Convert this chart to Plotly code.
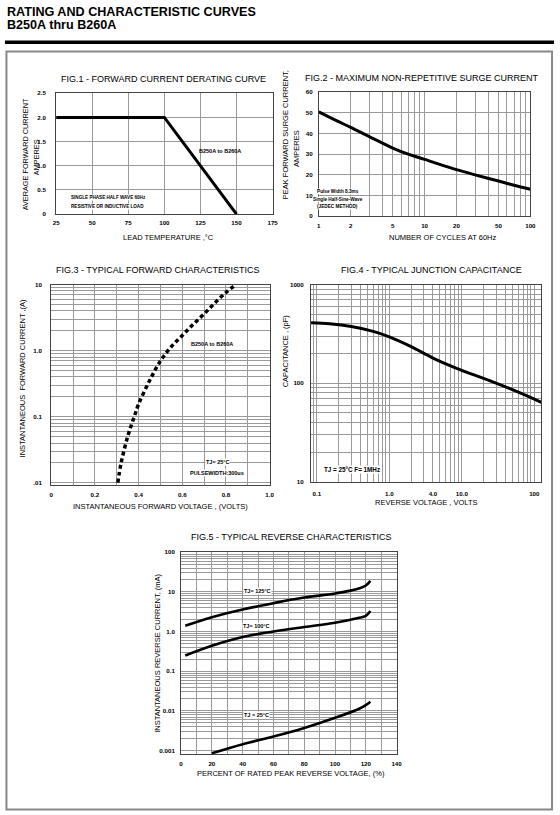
import plotly.graph_objects as go

W, H = 560, 815
FONT = "Liberation Sans"
GRID = "#9a9a9a"
FRAME = "#444444"

# fig.1 - derating curve
f1_temp = [25, 100, 150]
f1_amps = [2.0, 2.0, 0.0]
f1_xticks = [25, 50, 75, 100, 125, 150, 175]
f1_yticks = [0, 0.5, 1.0, 1.5, 2.0, 2.5]
f1_ylabels = ["0", "0.5", "1.0", "1.5", "2.0", "2.5"]

# fig.2 - surge current
f2_cycles = [1, 1.5, 2, 3, 5, 7, 10, 20, 30, 50, 70, 100]
f2_amps = [50.5, 46, 43, 38.5, 33, 30, 27.5, 22.5, 20, 17, 15, 13]
f2_xlabels = {1: "1", 2: "2", 5: "5", 10: "10", 20: "20", 50: "50", 100: "100"}
f2_yticks = [0, 10, 20, 30, 40, 50, 60]

# fig.3 - forward characteristics
f3_volts = [0.305, 0.32, 0.35, 0.38, 0.40, 0.45, 0.50, 0.55, 0.60, 0.65, 0.70, 0.75, 0.80, 0.845]
f3_amps = [0.01, 0.02, 0.05, 0.1, 0.155, 0.35, 0.7, 1.15, 1.7, 2.5, 3.6, 5.3, 7.6, 10]
f3_xticks = [0, 0.1, 0.2, 0.3, 0.4, 0.5, 0.6, 0.7, 0.8, 0.9, 1.0]
f3_xlabels = ["0", "", "0.2", "", "0.4", "", "0.6", "", "0.8", "", "1.0"]
f3_ylabels = {0.01: ".01", 0.1: "0.1", 1: "1.0", 10: "10"}

# fig.4 - junction capacitance
f4_volts = [0.083, 0.15, 0.3, 0.6, 1.0, 2, 4, 10, 20, 50, 100, 125]
f4_pf = [410, 400, 375, 335, 295, 235, 180, 135, 112, 86, 69, 64]
f4_xlabels = {0.1: "0.1", 1: "1.0", 4: "4.0", 10: "10.0", 100: "100"}
f4_ylabels = {10: "10", 100: "100", 1000: "1000"}

# fig.5 - reverse characteristics
f5_pct_hot = [2.7, 20, 40, 60, 80, 100, 115, 120, 123]
f5_tj125 = [1.4, 2.3, 3.6, 5.2, 7.2, 9.1, 12, 14.5, 19]
f5_tj100 = [0.25, 0.44, 0.73, 1.0, 1.3, 1.67, 2.2, 2.5, 3.3]
f5_pct_25 = [20, 40, 60, 80, 100, 115, 120, 123]
f5_tj25 = [0.00085, 0.00145, 0.00225, 0.0037, 0.0067, 0.011, 0.014, 0.017]
f5_xticks = [0, 10, 20, 30, 40, 50, 60, 70, 80, 90, 100, 110, 120, 130, 140]
f5_xlabels = ["0", "", "20", "", "40", "", "60", "", "80", "", "100", "", "120", "", "140"]
f5_ylabels = {0.001: "0.001", 0.01: "0.01", 0.1: "0.1", 1: "1.0", 10: "10", 100: "100"}


def px(x):
    return x / W


def py(y):
    return 1 - y / H


def loggrid(lo, hi, labels):
    vals, txt = [], []
    e = lo
    while e <= hi:
        for k in range(1, 10):
            v = round(k * 10 ** e, 6)
            vals.append(v)
            txt.append(labels.get(v, ""))
        e += 1
    return vals, txt


def axis(x0, x1, rng, vals, txt, anchor, typ="linear", standoff=4):
    return dict(domain=[x0, x1], range=rng, type=typ, anchor=anchor,
                tickmode="array", tickvals=vals, ticktext=txt,
                showgrid=True, gridcolor=GRID, gridwidth=0.8,
                showline=True, linecolor=FRAME, linewidth=1, mirror=True,
                ticks="", zeroline=False, ticklabelstandoff=standoff,
                tickfont=dict(family=FONT, size=6.2, color="black", weight="bold"))


fig = go.Figure()

fig.add_trace(go.Scatter(x=f1_temp, y=f1_amps, mode="lines", xaxis="x", yaxis="y",
                         line=dict(color="black", width=3)))
fig.add_trace(go.Scatter(x=f2_cycles, y=f2_amps, mode="lines", xaxis="x2", yaxis="y2",
                         line=dict(color="black", width=3, shape="spline")))
fig.add_trace(go.Scatter(x=f3_volts, y=f3_amps, mode="lines", xaxis="x3", yaxis="y3",
                         line=dict(color="black", width=3.5, dash="4px,3px", shape="spline")))
fig.add_trace(go.Scatter(x=f4_volts, y=f4_pf, mode="lines", xaxis="x4", yaxis="y4",
                         line=dict(color="black", width=3, shape="spline")))
for xs, ys in [(f5_pct_hot, f5_tj125), (f5_pct_hot, f5_tj100), (f5_pct_25, f5_tj25)]:
    fig.add_trace(go.Scatter(x=xs, y=ys, mode="lines", xaxis="x5", yaxis="y5",
                             line=dict(color="black", width=2.6, shape="spline")))

f2x_vals, f2x_txt = loggrid(0, 1, f2_xlabels)
f2x_vals.append(100)
f2x_txt.append("100")
f3y_vals, f3y_txt = loggrid(-2, 0, f3_ylabels)
f3y_vals.append(10)
f3y_txt.append("10")
f4x_vals, f4x_txt = loggrid(-2, 1, f4_xlabels)
f4x_vals += [100]
f4x_txt += ["100"]
f4y_vals, f4y_txt = loggrid(1, 2, f4_ylabels)
f4y_vals.append(1000)
f4y_txt.append("1000")
f5y_vals, f5y_txt = loggrid(-3, 1, f5_ylabels)
f5y_vals.append(100)
f5y_txt.append("100")

layout = dict(
    width=W, height=H, margin=dict(l=0, r=0, t=0, b=0),
    paper_bgcolor="white", plot_bgcolor="white", showlegend=False,
    font=dict(family=FONT, color="black"),
    xaxis=axis(px(54), px(274), [25, 175], f1_xticks, [str(v) for v in f1_xticks], "y", standoff=2),
    yaxis=axis(py(212), py(90), [0, 2.5], f1_yticks, f1_ylabels, "x", standoff=8),
    xaxis2=axis(px(321), px(536), [0, 2], f2x_vals, f2x_txt, "y2", "log", standoff=3),
    yaxis2=axis(py(214), py(89), [0, 60], f2_yticks, [str(v) for v in f2_yticks], "x2", standoff=4),
    xaxis3=axis(px(49), px(271), [0, 1.0], f3_xticks, f3_xlabels, "y3", standoff=4),
    yaxis3=axis(py(485), py(283), [-2.03, 1], f3y_vals, f3y_txt, "x3", "log", standoff=7),
    xaxis4=axis(px(313), px(547), [-1.08, 2.095], f4x_vals, f4x_txt, "y4", "log", standoff=6),
    yaxis4=axis(py(482), py(283), [1, 3], f4y_vals, f4y_txt, "x4", "log", standoff=5),
    xaxis5=axis(px(181), px(400), [0, 140], f5_xticks, f5_xlabels, "y5", standoff=3),
    yaxis5=axis(py(757), py(553), [-3.1, 2], f5y_vals, f5y_txt, "x5", "log", standoff=4),
)
fig.update_layout(**layout)


def note(text, x, y, size=8, angle=0, bold=False, bg=None, xanchor="center", align="center"):
    fig.add_annotation(text=text, x=px(x), y=py(y), xref="paper", yref="paper",
                       showarrow=False, textangle=angle, xanchor=xanchor, yanchor="middle",
                       align=align, bgcolor=bg, borderpad=0,
                       font=dict(family=FONT, size=size, color="black",
                                 weight="bold" if bold else "normal"))


note("RATING AND CHARACTERISTIC CURVES", 3, 8, size=12.6, bold=True, xanchor="left")
note("B250A thru B260A", 3, 21, size=12.6, bold=True, xanchor="left")

note("FIG.1 - FORWARD CURRENT DERATING CURVE", 163, 76, size=9)
note("AVERAGE FORWARD CURRENT", 23, 152, size=7.3, angle=-90)
note("AMPERES", 34, 154, size=7.3, angle=-90)
note("LEAD TEMPERATURE ,°C", 168, 236, size=7.5)
note("B250A to B260A", 221, 148, size=5.5, bold=True)
note("SINGLE PHASE HALF WAVE 60Hz", 68, 195, size=4.6, bold=True, bg="white", xanchor="left")
note("RESISTIVE OR INDUCTIVE LOAD", 68, 204, size=4.6, bold=True, bg="white", xanchor="left")

note("FIG.2 - MAXIMUM NON-REPETITIVE SURGE CURRENT", 426, 75, size=9)
note("PEAK FORWARD SURGE CURRENT,", 287, 132, size=7.5, angle=-90)
note("AMPERES", 299, 146, size=7.5, angle=-90)
note("NUMBER OF CYCLES AT 60Hz", 447, 236, size=7.5)
note("Pulse Width 8.3ms", 340, 189, size=4.7, bold=True, bg="white")
note("Single Half-Sine-Wave", 340, 197, size=4.7, bold=True, bg="white")
note("(JEDEC METHOD)", 340, 204.5, size=4.7, bold=True, bg="white")

note("FIG.3 - TYPICAL FORWARD CHARACTERISTICS", 158, 268, size=9)
note("INSTANTANEOUS  FORWARD CURRENT ,(A)", 20, 378, size=7.5, angle=-90)
note("INSTANTANEOUS FORWARD VOLTAGE , (VOLTS)", 160, 507, size=7.5)
note("B250A to B260A", 212, 343, size=5.5, bold=True)
note("TJ= 25°C", 218, 462, size=5.5, bold=True, bg="white")
note("PULSEWIDTH:300us", 218, 473, size=5.5, bold=True, bg="white")

note("FIG.4 - TYPICAL JUNCTION CAPACITANCE", 435, 268, size=9)
note("CAPACITANCE , (pF)", 288, 350, size=7.5, angle=-90)
note("REVERSE VOLTAGE , VOLTS", 430, 503, size=7.5)
note("TJ = 25°C F= 1MHz", 355, 470, size=6.3, bold=True, bg="white")

note("FIG.5 - TYPICAL REVERSE CHARACTERISTICS", 293, 538, size=9)
note("INSTANTANEOUS REVERSE CURRENT, (mA)", 157, 655, size=7.5, angle=-90)
note("PERCENT OF RATED PEAK REVERSE VOLTAGE, (%)", 293, 776, size=7.5)
note("TJ= 125°C", 259, 592, size=5.5, bold=True, bg="white")
note("TJ= 100°C", 258, 627, size=5.5, bold=True, bg="white")
note("TJ = 25°C", 258, 717, size=5.5, bold=True, bg="white")

# header rule and outer frame
fig.add_shape(type="line", xref="paper", yref="paper", x0=px(2), x1=px(560), y0=py(38.5), y1=py(38.5),
              line=dict(color="black", width=3.5))
fig.add_shape(type="rect", xref="paper", yref="paper", x0=px(3.5), x1=px(558), y0=py(812.5), y1=py(48),
              line=dict(color="#888888", width=2))

# page body has a default 8px margin, drop it so the figure sits at the window corner
fig.write_html("out.html", config={"displayModeBar": False},
               post_script="document.body.style.margin='0';")
